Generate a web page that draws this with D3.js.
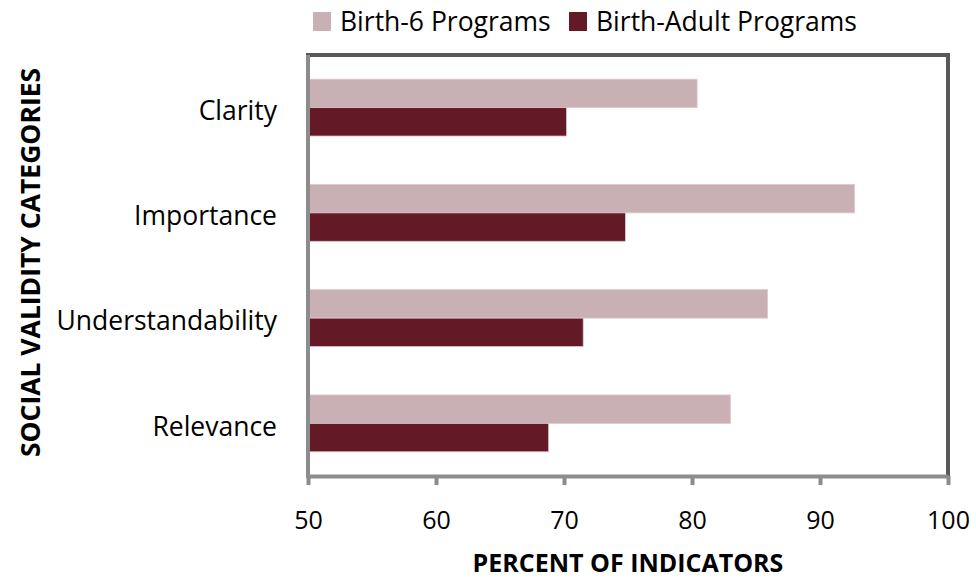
<!DOCTYPE html>
<html>
<head>
<meta charset="utf-8">
<script src="https://cdn.jsdelivr.net/npm/d3@7"></script>
<style>
  body { margin: 0; background: #fff; }
  text { font-family: "Open Sans", Lato, sans-serif; fill: #000; }
</style>
</head>
<body>
<script>
// chart data
const categories = ["Clarity", "Importance", "Understandability", "Relevance"];
const seriesNames = ["Birth-6 Programs", "Birth-Adult Programs"];
const birth6 = [80.4, 92.7, 85.9, 83.0];
const birthAdult = [70.2, 74.8, 71.5, 68.8];
const xTicks = [50, 60, 70, 80, 90, 100];

const colors = ["#c9b0b4", "#641a26"];

const width = 976;
const height = 580;
const margin = { top: 55, right: 28, bottom: 104, left: 308 };

const svg = d3.select("body").append("svg")
  .attr("width", width)
  .attr("height", height);

const x = d3.scaleLinear()
  .domain([50, 100])
  .range([margin.left, width - margin.right]);

const y = d3.scaleBand()
  .domain(categories)
  .range([margin.top, height - margin.bottom])
  .paddingInner(0.46)
  .paddingOuter(0.23);

const sub = d3.scaleBand()
  .domain(seriesNames)
  .range([0, y.bandwidth()]);

const rows = categories.map((c, i) => ({ cat: c, vals: [birth6[i], birthAdult[i]] }));

// bars
const g = svg.append("g");
rows.forEach(r => {
  g.selectAll(null)
    .data(r.vals)
    .enter().append("rect")
    .attr("x", x(50))
    .attr("y", (d, i) => y(r.cat) + sub(seriesNames[i]))
    .attr("width", d => x(d) - x(50))
    .attr("height", sub.bandwidth())
    .attr("fill", (d, i) => colors[i])
    .attr("stroke", "#dcc8cb")
    .attr("stroke-width", 0.8);
});

// frame: top and right darker, left and bottom axis lighter
const x0 = x(50), x1 = x(100), y0 = margin.top, y1 = height - margin.bottom;
svg.append("line").attr("x1", x0 - 2).attr("x2", x1 + 2).attr("y1", y0).attr("y2", y0)
  .attr("stroke", "#595959").attr("stroke-width", 4);
svg.append("line").attr("x1", x1).attr("x2", x1).attr("y1", y0).attr("y2", y1)
  .attr("stroke", "#595959").attr("stroke-width", 4);
svg.append("line").attr("x1", x0).attr("x2", x0).attr("y1", y0).attr("y2", y1 + 2)
  .attr("stroke", "#8c8c8c").attr("stroke-width", 4);

// x axis
const xAxis = svg.append("g")
  .attr("transform", `translate(0,${y1})`)
  .call(d3.axisBottom(x).tickValues(xTicks).tickSize(9).tickPadding(26).tickSizeOuter(0));
xAxis.select(".domain").attr("stroke", "#8c8c8c").attr("stroke-width", 4);
xAxis.selectAll(".tick line").attr("stroke", "#8c8c8c").attr("stroke-width", 4);
xAxis.selectAll(".tick text")
  .style("font-size", "25px")
  .style("font-family", "'Open Sans', sans-serif")
  .attr("fill", "#000");

// category labels
svg.append("g").selectAll("text")
  .data(categories)
  .enter().append("text")
  .attr("x", 277)
  .attr("y", d => y(d) + y.bandwidth() / 2 + 3)
  .attr("dy", "0.35em")
  .attr("text-anchor", "end")
  .style("font-size", "26.5px")
  .text(d => d);

// axis titles
svg.append("text")
  .attr("x", (x0 + x1) / 2)
  .attr("y", 572)
  .attr("text-anchor", "middle")
  .style("font-size", "25px")
  .style("font-weight", "bold")
  .text("PERCENT OF INDICATORS");

svg.append("text")
  .attr("transform", `translate(40,${(y0 + y1) / 2 - 3}) rotate(-90)`)
  .attr("text-anchor", "middle")
  .style("font-size", "26.5px")
  .style("font-weight", "bold")
  .text("SOCIAL VALIDITY CATEGORIES");

// legend
const legend = svg.append("g").attr("transform", "translate(313,12)");
const legendX = [0, 256];
seriesNames.forEach((s, i) => {
  const lg = legend.append("g").attr("transform", `translate(${legendX[i]},0)`);
  lg.append("rect").attr("width", 18).attr("height", 19).attr("fill", colors[i]);
  lg.append("text").attr("x", 27).attr("y", 10).attr("dy", "0.35em")
    .style("font-size", "26.5px").text(s);
});
</script>
</body>
</html>
